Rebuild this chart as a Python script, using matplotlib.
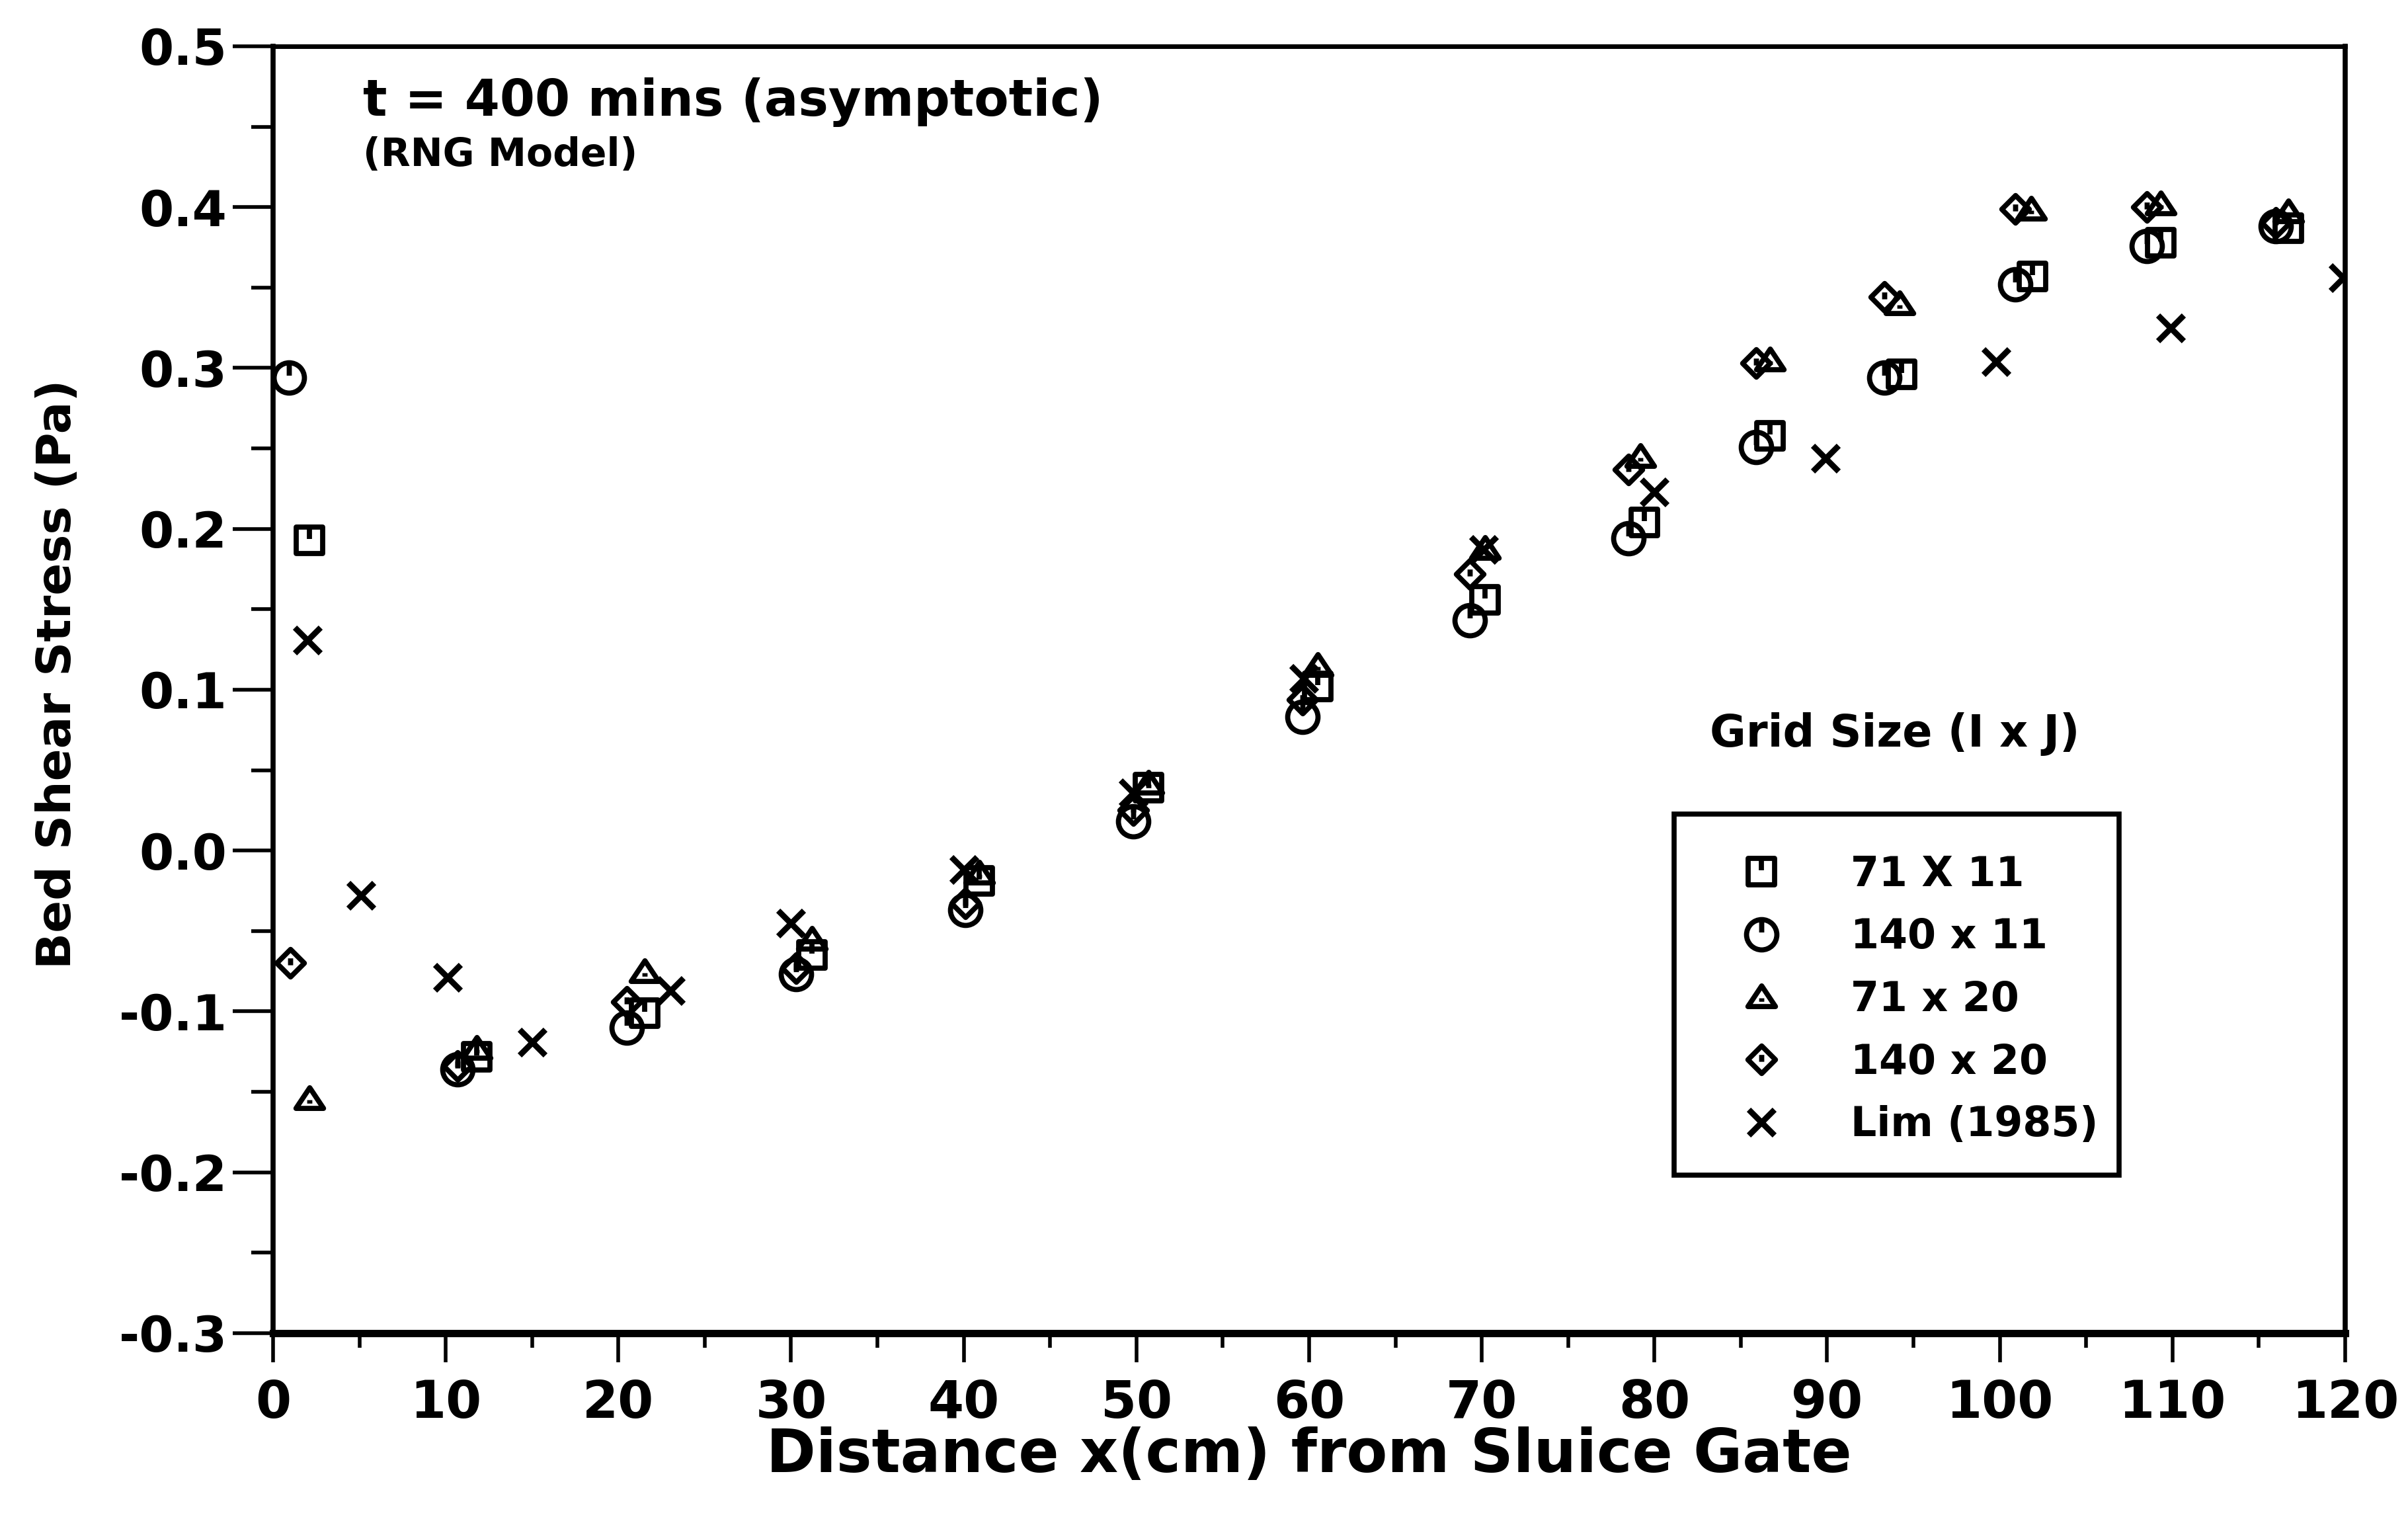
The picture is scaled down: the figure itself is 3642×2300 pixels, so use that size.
import matplotlib
matplotlib.use("Agg")
import matplotlib.pyplot as plt
import matplotlib.ticker as mticker
from matplotlib.patches import Rectangle
from matplotlib.path import Path

# bed shear stress (Pa) vs distance x (cm)
x_71x11 = [2.1, 11.8, 21.5, 31.2, 40.9, 50.7, 60.5, 70.2, 79.4, 86.7, 94.3, 101.9, 109.3, 116.7]
y_71x11 = [0.193, -0.128, -0.101, -0.065, -0.019, 0.039, 0.102, 0.156, 0.204, 0.258, 0.296, 0.357, 0.378, 0.387]

x_140x11 = [0.9, 10.7, 20.5, 30.3, 40.1, 49.8, 59.6, 69.3, 78.5, 85.9, 93.3, 100.9, 108.5, 116.0]
y_140x11 = [0.294, -0.136, -0.110, -0.077, -0.037, 0.018, 0.083, 0.143, 0.194, 0.251, 0.294, 0.352, 0.376, 0.388]

x_71x20 = [2.1, 11.8, 21.5, 31.2, 40.9, 50.7, 60.5, 70.2, 79.2, 86.7, 94.2, 101.8, 109.3, 116.7]
y_71x20 = [-0.154, -0.123, -0.075, -0.055, -0.014, 0.042, 0.115, 0.188, 0.245, 0.305, 0.340, 0.399, 0.402, 0.397]

x_140x20 = [1.0, 10.7, 20.5, 30.3, 40.1, 49.8, 59.6, 69.3, 78.5, 85.9, 93.3, 100.9, 108.5, 116.0]
y_140x20 = [-0.070, -0.134, -0.094, -0.073, -0.033, 0.025, 0.094, 0.172, 0.237, 0.303, 0.344, 0.399, 0.400, 0.390]

x_lim = [2.0, 5.1, 10.1, 15.0, 23.0, 30.0, 40.0, 49.8, 59.7, 70.1, 80.0, 89.9, 99.8, 109.9, 119.9]
y_lim = [0.131, -0.028, -0.079, -0.119, -0.087, -0.045, -0.012, 0.036, 0.107, 0.187, 0.223, 0.244, 0.304, 0.325, 0.356]

plt.rcParams.update({
    "font.family": "DejaVu Sans",
    "font.weight": "bold",
    "axes.unicode_minus": False,
})

M, L, C = Path.MOVETO, Path.LINETO, Path.CLOSEPOLY


def _tick(y0, y1):
    return Path([(0, y0), (0, y1)], [M, L])


# old plotter glyphs: open shapes with a little mark inside
square = Path.make_compound_path(
    Path([(-1, -1), (1, -1), (1, 1), (-1, 1), (-1, -1)], [M, L, L, L, C]), _tick(1, 0.1))
circle = Path.make_compound_path(Path.unit_circle(), _tick(1, 0.15))
triangle = Path.make_compound_path(
    Path([(0, 0.8), (1, -0.7), (-1, -0.7), (0, 0.8)], [M, L, L, C]), _tick(-0.35, -0.1))
diamond = Path.make_compound_path(
    Path([(0, 1), (1, 0), (0, -1), (-1, 0), (0, 1)], [M, L, L, L, C]), _tick(0.35, -0.15))
cross = Path([(-1, -1), (1, 1), (-1, 1), (1, -1)], [M, L, M, L])

fig = plt.figure(figsize=(36.42, 23), dpi=100)
ax = fig.add_axes([0.1134, 0.1235, 0.8605, 0.8461])

style = dict(linestyle="none", color="black", markerfacecolor="none", markeredgewidth=5.6)
ax.plot(x_71x11, y_71x11, marker=square, markersize=29, label="71 X 11", **style)
ax.plot(x_140x11, y_140x11, marker=circle, markersize=33, label="140 x 11", **style)
ax.plot(x_71x20, y_71x20, marker=triangle, markersize=30, label="71 x 20", **style)
ax.plot(x_140x20, y_140x20, marker=diamond, markersize=30, label="140 x 20", **style)
ax.plot(x_lim, y_lim, marker=cross, markersize=28, label="Lim (1985)",
        **{**style, "markeredgewidth": 6.4})

ax.set_xlim(0, 120)
ax.set_ylim(-0.3, 0.5)
ax.xaxis.set_major_locator(mticker.MultipleLocator(10))
ax.xaxis.set_minor_locator(mticker.MultipleLocator(5))
ax.yaxis.set_major_locator(mticker.MultipleLocator(0.1))
ax.yaxis.set_minor_locator(mticker.MultipleLocator(0.05))
ax.yaxis.set_major_formatter(mticker.FormatStrFormatter("%.1f"))

ax.tick_params(axis="both", which="both", direction="out", width=4, color="black")
ax.tick_params(axis="x", which="major", length=32, pad=17, labelsize=56)
ax.tick_params(axis="x", which="minor", length=16)
ax.tick_params(axis="y", which="major", length=44, pad=6, labelsize=54)
ax.tick_params(axis="y", which="minor", length=24)
for lab in ax.get_xticklabels() + ax.get_yticklabels():
    lab.set_fontweight("bold")

for side, lw in [("left", 5.5), ("right", 5.5), ("top", 5), ("bottom", 8)]:
    ax.spines[side].set_linewidth(lw)
    ax.spines[side].set_color("black")

ax.set_xlabel("Distance x(cm) from Sluice Gate", fontsize=65, fontweight="bold")
ax.set_ylabel("Bed Shear Stress (Pa)", fontsize=52, fontweight="bold")
ax.xaxis.set_label_coords(0.5, -0.0725)
ax.yaxis.set_label_coords(-0.093, 0.512)

ax.text(5.2, 0.457, "t = 400 mins (asymptotic)", fontsize=55, fontweight="bold", va="baseline")
ax.text(5.2, 0.4255, "(RNG Model)", fontsize=42, fontweight="bold", va="baseline")
ax.text(83.2, 0.0647, "Grid Size (I x J)", fontsize=48, fontweight="bold", va="baseline")

# legend frame drawn on its own so the box size can be matched
ax.add_patch(Rectangle((0.676, 0.1229), 0.215, 0.2804, transform=ax.transAxes,
                       fill=False, edgecolor="black", linewidth=5.5, zorder=5))
leg = ax.legend(loc="center left", bbox_to_anchor=(0.6985, 0.259), fontsize=44.5,
                frameon=False, borderpad=0, handlelength=2.0, handletextpad=1.18,
                labelspacing=0.56, borderaxespad=0, numpoints=1)
for t in leg.get_texts():
    t.set_fontweight("bold")

fig.savefig("out.png", dpi=100, facecolor="white")
